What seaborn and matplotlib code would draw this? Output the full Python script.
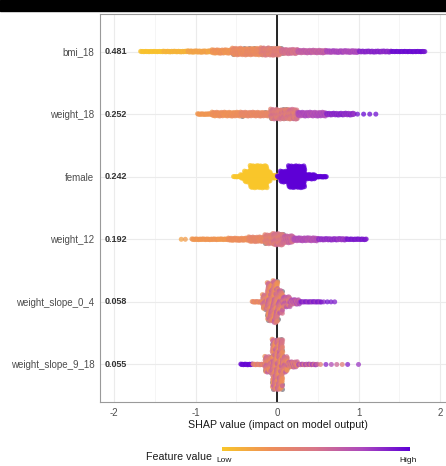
import numpy as np
import pandas as pd
import matplotlib
matplotlib.use("Agg")
import matplotlib.pyplot as plt
import matplotlib.transforms as mtransforms
import seaborn as sns
from matplotlib.colors import LinearSegmentedColormap
from matplotlib.patches import Rectangle

features = ["bmi_18", "weight_18", "female", "weight_12", "weight_slope_0_4", "weight_slope_9_18"]
importance = [0.481, 0.252, 0.242, 0.192, 0.058, 0.055]

# each segment: (shap from, shap to, points per 0.1 shap, mean feature value, feature value spread, share missing)
bmi_18 = [
    (-1.68, -1.40, 5, 0.02, 0.02, 0.0),
    (-1.40, -1.10, 6, 0.08, 0.03, 0.0),
    (-1.10, -0.80, 8, 0.16, 0.04, 0.0),
    (-0.80, -0.55, 13, 0.24, 0.05, 0.0),
    (-0.55, -0.20, 21, 0.30, 0.06, 0.1),
    (-0.20, 0.05, 23, 0.40, 0.08, 0.15),
    (0.05, 0.25, 15, 0.52, 0.06, 0.03),
    (0.25, 0.60, 11, 0.62, 0.06, 0.0),
    (0.60, 1.00, 9, 0.74, 0.05, 0.0),
    (1.00, 1.40, 7, 0.86, 0.04, 0.0),
    (1.40, 1.82, 5, 0.95, 0.03, 0.0),
]
weight_18 = [
    (-0.98, -0.80, 6, 0.22, 0.03, 0.0),
    (-0.80, -0.45, 14, 0.26, 0.05, 0.0),
    (-0.45, -0.08, 14, 0.32, 0.05, 0.05),
    (-0.08, 0.25, 29, 0.45, 0.10, 0.2),
    (0.25, 0.60, 14, 0.72, 0.06, 0.0),
    (0.60, 0.95, 9, 0.85, 0.05, 0.0),
    (0.95, 1.25, 1.2, 0.95, 0.03, 0.0),
]
female = [
    (-0.54, -0.45, 5, 0.0, 0.0, 0.0),
    (-0.45, -0.40, 14, 0.0, 0.0, 0.0),
    (-0.40, -0.33, 32, 0.0, 0.0, 0.0),
    (-0.33, -0.12, 60, 0.0, 0.0, 0.0),
    (-0.12, -0.08, 30, 0.0, 0.0, 0.0),
    (-0.08, 0.00, 12, 0.0, 0.0, 0.0),
    (0.00, 0.04, 8, 1.0, 0.0, 0.0),
    (0.04, 0.14, 32, 1.0, 0.0, 0.0),
    (0.14, 0.34, 59, 1.0, 0.0, 0.0),
    (0.34, 0.47, 16, 1.0, 0.0, 0.0),
    (0.47, 0.61, 6, 1.0, 0.0, 0.0),
]
weight_12 = [
    (-1.20, -1.10, 2, 0.18, 0.02, 0.0),
    (-1.05, -0.60, 6, 0.22, 0.03, 0.0),
    (-0.60, -0.35, 10, 0.27, 0.04, 0.0),
    (-0.35, -0.15, 16, 0.33, 0.05, 0.0),
    (-0.15, -0.05, 27, 0.40, 0.08, 0.1),
    (-0.05, 0.08, 33, 0.46, 0.10, 0.1),
    (0.08, 0.20, 22, 0.56, 0.08, 0.0),
    (0.20, 0.50, 12, 0.70, 0.06, 0.0),
    (0.50, 0.85, 8, 0.82, 0.05, 0.0),
    (0.85, 1.10, 6, 0.90, 0.04, 0.0),
]
weight_slope_0_4 = [
    (-0.31, -0.18, 6, 0.32, 0.10, 0.0),
    (-0.18, -0.12, 40, 0.40, 0.20, 0.3),
    (-0.12, -0.05, 100, 0.42, 0.22, 0.3),
    (-0.05, 0.01, 110, 0.42, 0.22, 0.25),
    (0.01, 0.07, 62, 0.45, 0.22, 0.2),
    (0.07, 0.16, 30, 0.52, 0.20, 0.1),
    (0.16, 0.28, 16, 0.62, 0.15, 0.0),
    (0.28, 0.55, 5, 0.85, 0.08, 0.0),
    (0.55, 0.73, 2.2, 0.90, 0.05, 0.0),
]
weight_slope_9_18 = [
    (-0.45, -0.30, 6, 0.97, 0.03, 0.0),
    (-0.30, -0.15, 6, 0.38, 0.15, 0.0),
    (-0.15, -0.06, 44, 0.42, 0.20, 0.25),
    (-0.06, 0.07, 130, 0.42, 0.22, 0.3),
    (0.07, 0.13, 44, 0.42, 0.20, 0.25),
    (0.13, 0.25, 18, 0.45, 0.20, 0.05),
    (0.25, 0.50, 6, 0.60, 0.25, 0.0),
    (0.50, 0.90, 1.5, 0.65, 0.30, 0.0),
    (0.98, 1.02, 2.5, 0.80, 0.0, 0.0),
]
segments = [bmi_18, weight_18, female, weight_12, weight_slope_0_4, weight_slope_9_18]

row_px = 388 / 6.2  # pixels per row on the final image
fill = 1.6          # extra points so thin bands look solid


def expand(segs, row):
    # spread the points of each segment into a sina-like band
    recs = []
    for lo, hi, dens, value, spread, na in segs:
        n_pts = dens * (hi - lo) / 0.1
        n = max(1, int(round(n_pts * (fill if dens >= 4 else 1))))
        half = max(dens - 4, 0) * 0.2 / row_px
        for i in range(n):
            x = lo + (i + 0.5) / n * (hi - lo)
            y = row + half * (2 * ((i * 0.618034) % 1) - 1)
            v = min(max(value + spread * (2 * ((i * 0.754878 + 0.1) % 1) - 1), 0), 1)
            missing = ((i * 0.569840 + 0.3) % 1) < na
            recs.append((x, y, v, missing))
    return recs


rows = []
for k, segs in enumerate(segments):
    rows += expand(segs, k)
df = pd.DataFrame(rows, columns=["shap", "ypos", "value", "missing"])

cmap = LinearSegmentedColormap.from_list(
    "fv", ["#F9C62A", "#EF9058", "#D7758A", "#AC48BE", "#5E00D6"])

sns.set_style("white")
plt.rcParams["font.family"] = ["Liberation Sans", "DejaVu Sans"]

fig = plt.figure(figsize=(4.46, 4.66), dpi=100)
ax = fig.add_axes([100 / 446, 64 / 466, 356 / 446, 388 / 466])

ax.set_xlim(-2.172, 2.196)
ax.set_ylim(5.6, -0.6)
ax.set_xticks([-2, -1, 0, 1, 2])
ax.set_xticks([-1.5, -0.5, 0.5, 1.5], minor=True)
ax.grid(which="major", axis="x", color="#EBEBEB", lw=0.8)
ax.grid(which="minor", axis="x", color="#F4F4F4", lw=0.6)
ax.grid(which="major", axis="y", color="#EBEBEB", lw=0.8)
ax.set_axisbelow(True)
ax.axvline(0, color="black", lw=1.2, zorder=1.5)

# missing feature values in grey, underneath the coloured points
sns.scatterplot(data=df[df["missing"]], x="shap", y="ypos", color="#8C8890",
                s=13, linewidth=0, alpha=0.85, legend=False, ax=ax, zorder=2)
sns.scatterplot(data=df[~df["missing"]], x="shap", y="ypos", hue="value",
                palette=cmap, hue_norm=(0, 1), s=13, linewidth=0, alpha=0.75,
                legend=False, ax=ax, zorder=2)

ax.set_yticks(range(len(features)))
ax.set_yticklabels(features)
ax.tick_params(axis="y", length=0, pad=4, labelsize=7, labelcolor="#4D4D4D")
ax.tick_params(axis="x", which="major", length=2.5, width=0.6, color="#888888",
               pad=1.5, labelsize=7, labelcolor="#4D4D4D")
ax.tick_params(axis="x", which="minor", length=0)
ax.set_xticklabels(["-2", "-1", "0", "1", "2"])
ax.set_xlabel("SHAP value (impact on model output)", fontsize=7.7, color="#1A1A1A", labelpad=2)
ax.set_ylabel("")
for side in ["left", "bottom", "top", "right"]:
    ax.spines[side].set_color("#9A9A9A")
    ax.spines[side].set_linewidth(0.8)

trans = mtransforms.blended_transform_factory(ax.transAxes, ax.transData)
for k, v in enumerate(importance):
    ax.text(0.014, k, f"{v:.3f}", transform=trans, ha="left", va="center",
            fontsize=6.5, fontweight="bold", color="#333333")

# colour legend
cax = fig.add_axes([222 / 446, (466 - 451) / 466, 188 / 446, 4 / 466])
cax.imshow(np.linspace(0, 1, 256)[None, :], aspect="auto", cmap=cmap)
cax.set_axis_off()
fig.text(146 / 446, (466 - 456.5) / 466, "Feature value", fontsize=7.7,
         color="#1A1A1A", ha="left", va="center")
fig.text(216 / 446, (466 - 461) / 466, "Low", fontsize=6, color="#1A1A1A",
         ha="left", va="center")
fig.text(417 / 446, (466 - 461) / 466, "High", fontsize=6, color="#1A1A1A",
         ha="right", va="center")

# dark strip across the top of the screenshot
fig.patches.append(Rectangle((0, 1 - 11 / 466), 1, 11 / 466, transform=fig.transFigure,
                             color="black", zorder=0))

fig.savefig("out.png", dpi=100)
